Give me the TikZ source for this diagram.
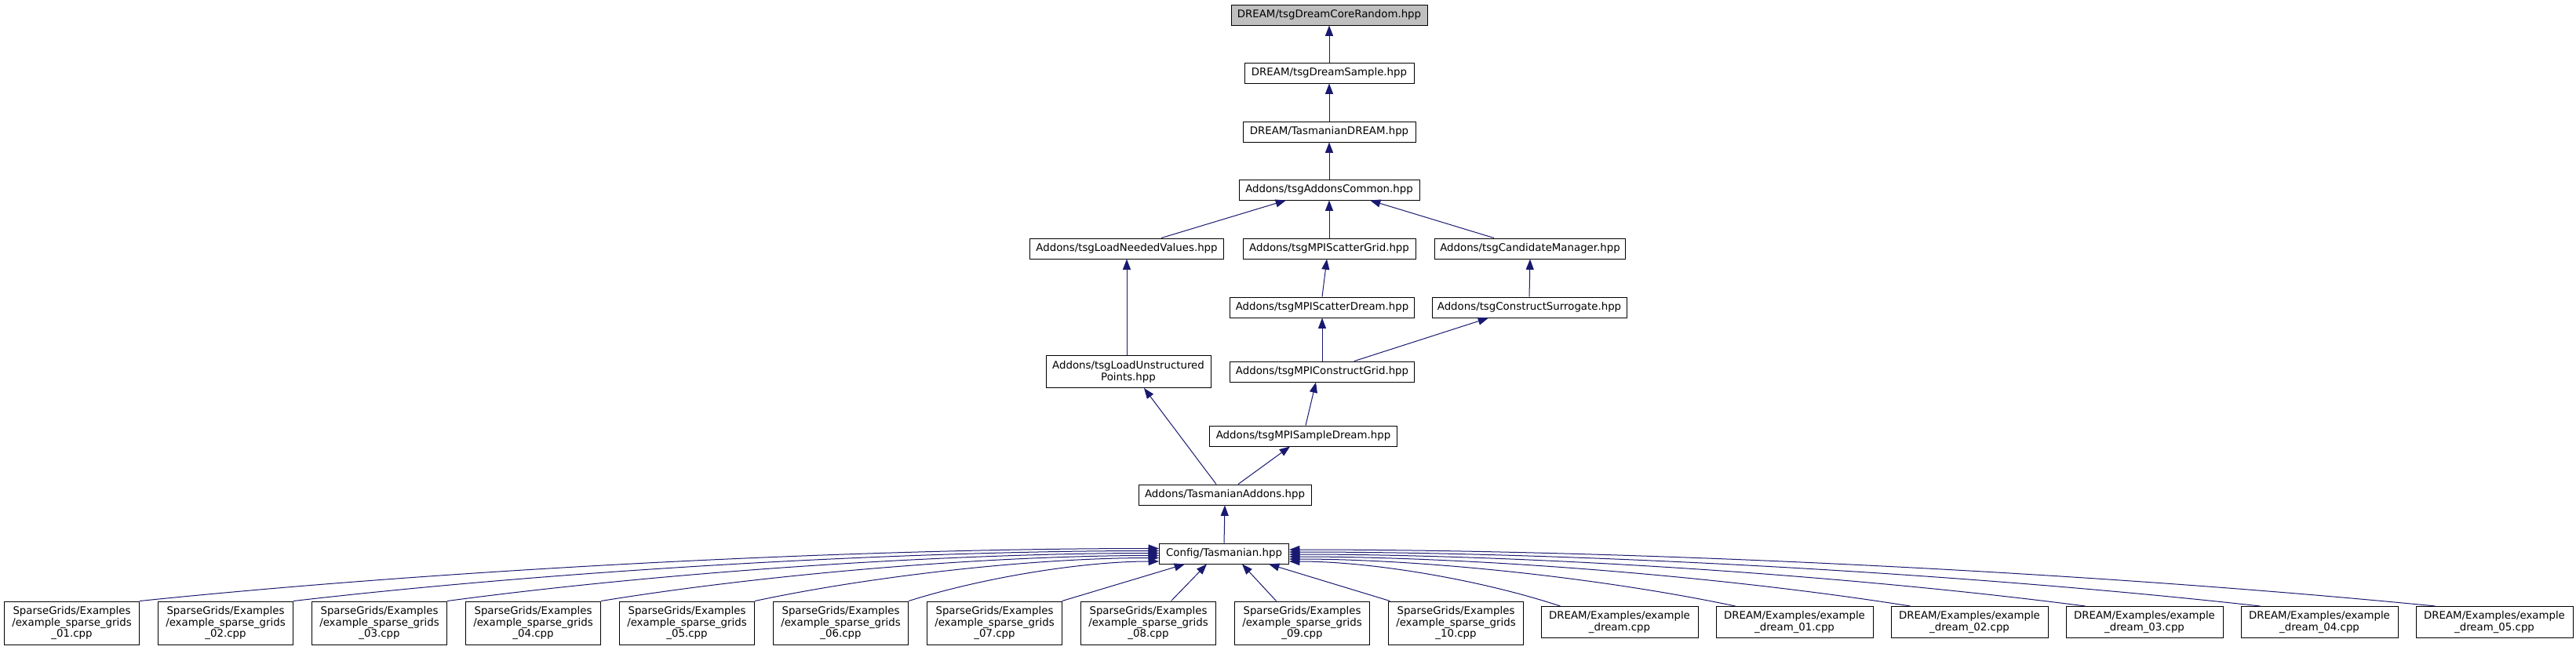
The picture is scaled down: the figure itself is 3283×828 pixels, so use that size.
\documentclass[tikz,border=0pt]{standalone}
\usepackage{fontspec}
\setmainfont{DejaVu Sans}
\usetikzlibrary{arrows.meta,calc}
\definecolor{edgeblue}{HTML}{191970}
\definecolor{rootgrey}{HTML}{BFBFBF}

\begin{document}
\begin{tikzpicture}[
                    x=0.75pt, y=-0.75pt,
                    every node/.style={inner sep=0pt, font=\fontsize{10}{11}\selectfont},
                    file/.style={draw=black, line width=0.75pt, fill=white, align=center, minimum height=19.5pt},
                    boxw/.style={minimum width=#1*0.75pt},
                    boxh/.style={minimum height=#1*0.75pt},
                    dep/.style={draw=edgeblue, line width=0.75pt, {Triangle[length=10pt,width=7.5pt]}-}
                  ]
                  \useasboundingbox (0,0) rectangle (3283,828);

                  \node[file, boxw=250, fill=rootgrey] (core) at (1694,19) {DREAM/tsgDreamCoreRandom.hpp};
                  \node[file, boxw=216] (sample) at (1694,93) {DREAM/tsgDreamSample.hpp};
                  \node[file, boxw=220] (dream) at (1694,168) {DREAM/TasmanianDREAM.hpp};
                  \node[file, boxw=230] (common) at (1694,242) {Addons/tsgAddonsCommon.hpp};
                  \node[file, boxw=247] (needed) at (1436,317) {Addons/tsgLoadNeededValues.hpp};
                  \node[file, boxw=220] (sgrid) at (1694,317) {Addons/tsgMPIScatterGrid.hpp};
                  \node[file, boxw=243] (cand) at (1950,317) {Addons/tsgCandidateManager.hpp};
                  \node[file, boxw=235] (sdream) at (1685,392) {Addons/tsgMPIScatterDream.hpp};
                  \node[file, boxw=248] (surr) at (1949,392) {Addons/tsgConstructSurrogate.hpp};
                  \node[file, boxw=210, boxh=41] (unstr) at (1438,474) {Addons/tsgLoadUnstructured\\Points.hpp};
                  \node[file, boxw=235] (cgrid) at (1685,474) {Addons/tsgMPIConstructGrid.hpp};
                  \node[file, boxw=239] (sampd) at (1661,556) {Addons/tsgMPISampleDream.hpp};
                  \node[file, boxw=220] (addons) at (1561,631) {Addons/TasmanianAddons.hpp};
                  \node[file, boxw=165] (cfg) at (1560,706) {Config/Tasmanian.hpp};

                  \foreach \n [count=\i] in {01,02,03,04,05,06,07,08,09,10}
                    \node[file, boxw=172, boxh=55] (sg\i) at ({91.5+196*(\i-1)},794.5)
                      {SparseGrids/Examples\\/example\_sparse\_grids\\\_\n.cpp};
                  \foreach \n [count=\j from 0] in {\_dream.cpp,\_dream\_01.cpp,\_dream\_02.cpp,\_dream\_03.cpp,\_dream\_04.cpp,\_dream\_05.cpp}
                    \node[file, boxw=200, boxh=40] (dr\j) at ({2064+223*\j},793.5)
                      {DREAM/Examples/example\\\n};

                  \draw[dep] (core) -- (sample);
                  \draw[dep] (sample) -- (dream);
                  \draw[dep] (dream) -- (common);
                  \draw[dep] ($(common.south)+(-55,0)$) -- ($(needed.north)+(44,0)$);
                  \draw[dep] (common) -- (sgrid);
                  \draw[dep] ($(common.south)+(52,0)$) -- ($(cand.north)+(-46,0)$);
                  \draw[dep] (needed.south) -- (needed.south |- unstr.north);
                  \draw[dep] ($(sgrid.south)+(-3,0)$) -- (sdream.north);
                  \draw[dep] (cand.south) -- (surr.north);
                  \draw[dep] (sdream) -- (cgrid);
                  \draw[dep] ($(surr.south)+(-52,0)$) -- ($(cgrid.north)+(41,0)$);
                  \draw[dep] ($(unstr.south)+(20,0)$) -- ($(addons.north)+(-11,0)$);
                  \draw[dep] ($(cgrid.south)+(-8,0)$) -- ($(sampd.north)+(3,0)$);
                  \draw[dep] ($(sampd.south)+(-17,0)$) -- ($(addons.north)+(17,0)$);
                  \draw[dep] (addons.south) -- (cfg.north);

                  \foreach \i/\dy in {1/-6.5,2/-3.5,3/-0.5,4/2.5,5/5.5,6/10} {
                    \coordinate (e) at ($(cfg.west)+(0,\dy)$);
                    \coordinate (s) at (sg\i.north east);
                    \coordinate (a) at ($(s)!0.3!(e)$);
                    \coordinate (b) at ($(s)!0.6!(e)$);
                    \draw[dep] (e) .. controls ($(e)!0.3!(s|-e)$) and (a|-b) .. (s);
                  }
                  \foreach \i/\sx/\ex in {7/86/-50,8/29/-22,9/-33/23,10/-84/57}
                    \draw[dep] ($(cfg.south)+(\ex,0)$) -- ($(sg\i.north)+(\sx,0)$);
                  \foreach \j/\dy in {0/10,1/7,2/4,3/1,4/-2,5/-5} {
                    \coordinate (e) at ($(cfg.east)+(0,\dy)$);
                    \coordinate (s) at ($(dr\j.north west)+(25,0)$);
                    \coordinate (a) at ($(s)!0.3!(e)$);
                    \coordinate (b) at ($(s)!0.6!(e)$);
                    \draw[dep] (e) .. controls ($(e)!0.3!(s|-e)$) and (a|-b) .. (s);
                  }
                \end{tikzpicture}
\end{document}
